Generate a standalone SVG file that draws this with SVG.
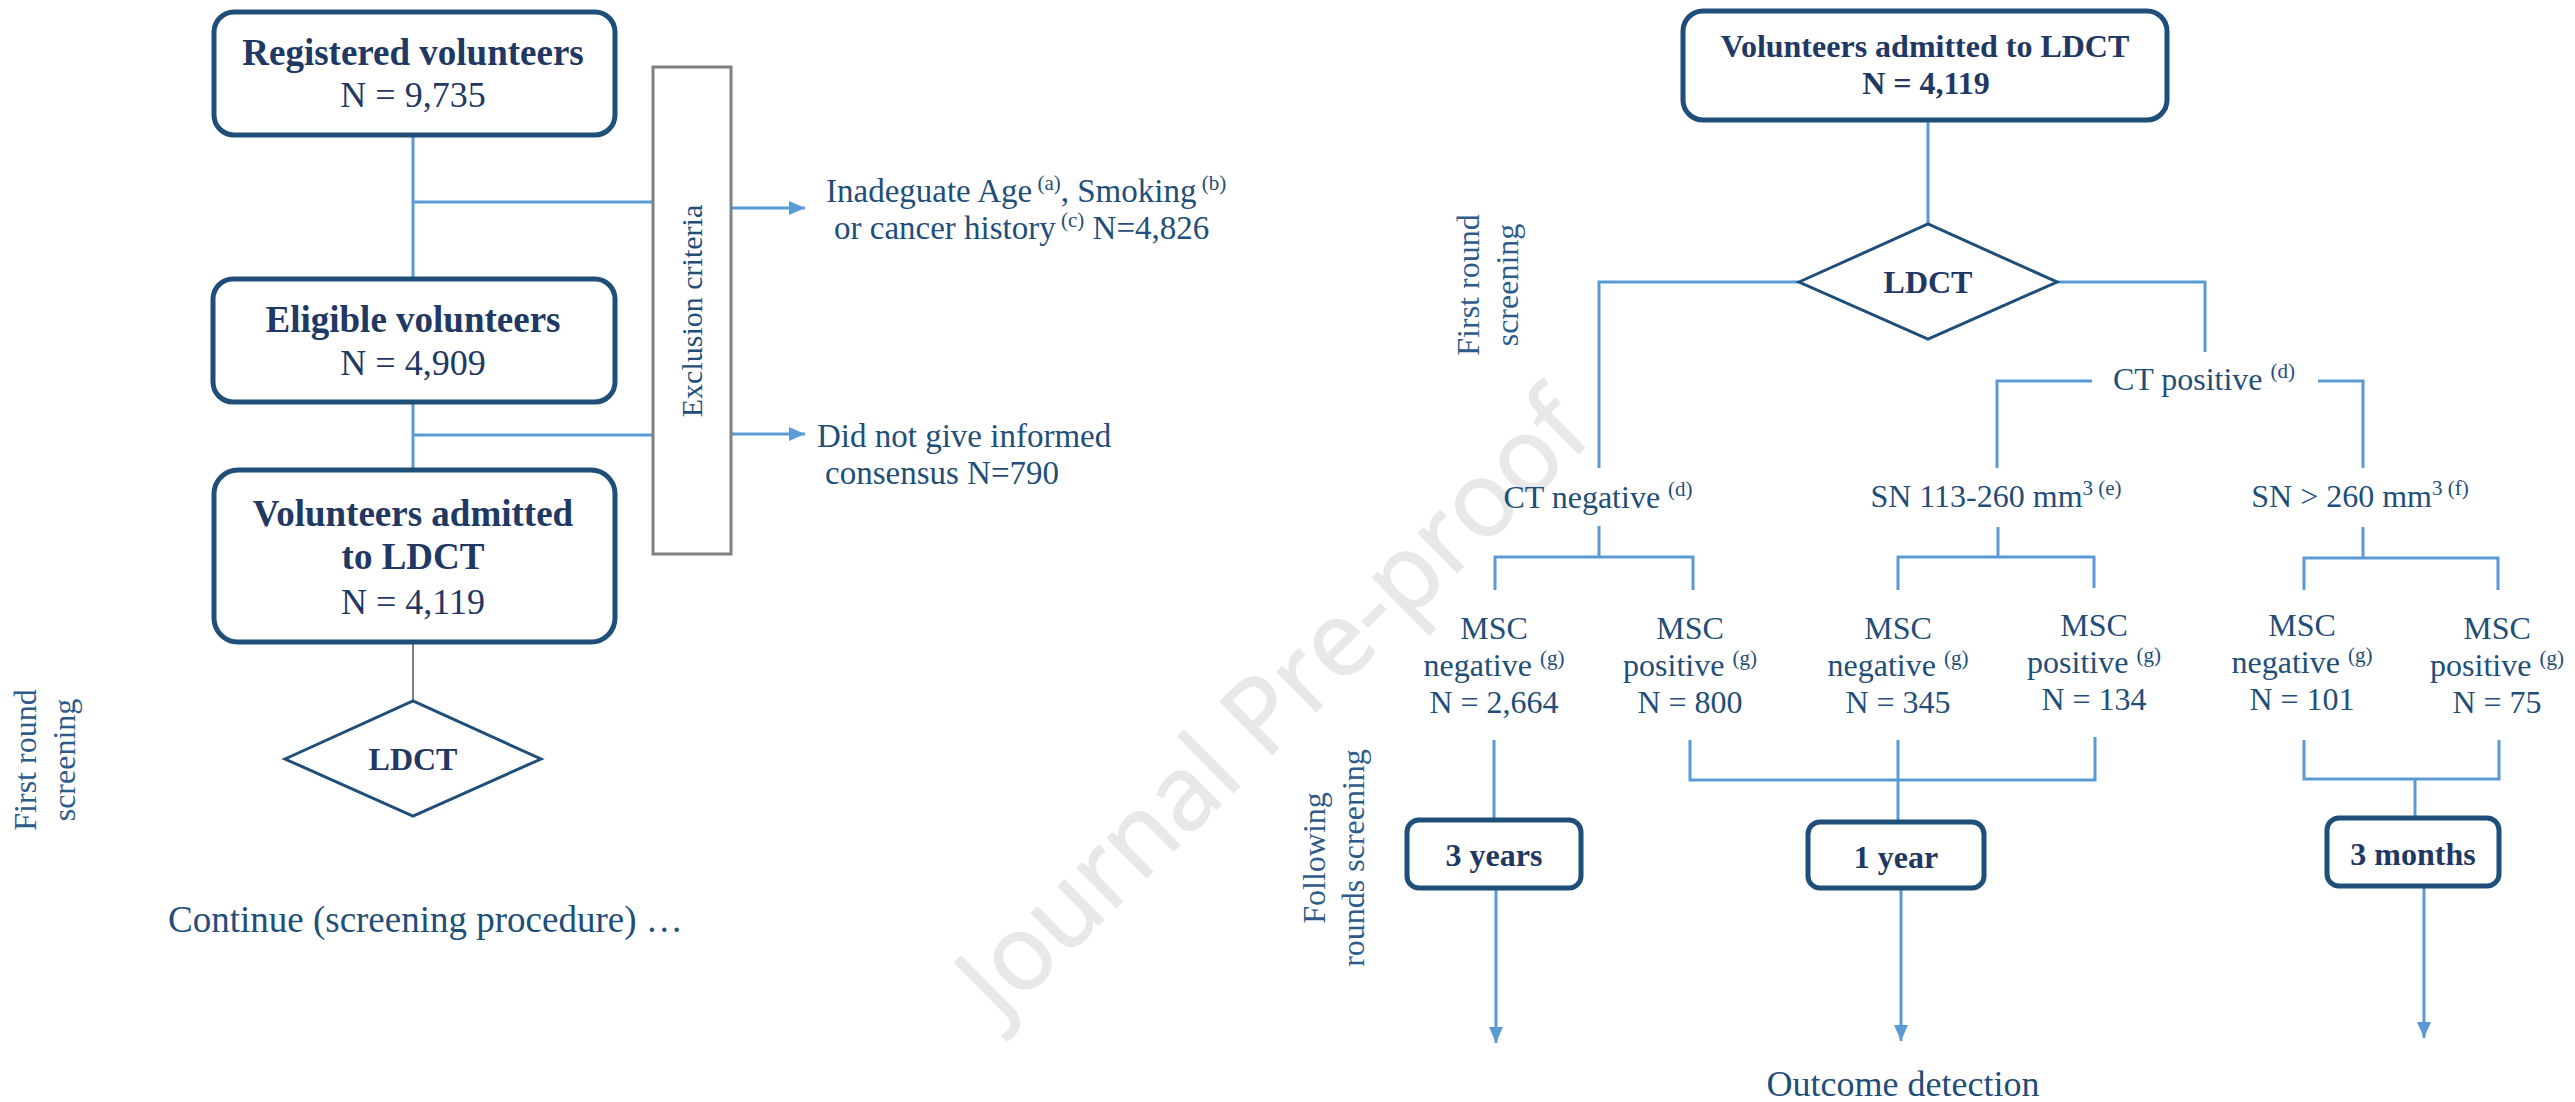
<svg xmlns="http://www.w3.org/2000/svg" width="2575" height="1102" viewBox="0 0 2575 1102">
<style>
  text { font-family: "Liberation Serif", "Times New Roman", serif; }
  .box { fill: #ffffff; stroke: #1f4e79; stroke-width: 5; }
  .sbox { fill: #ffffff; stroke: #1f4e79; stroke-width: 5; }
  .dia { fill: #ffffff; stroke: #1f4e79; stroke-width: 3; }
  .excl { fill: #ffffff; stroke: #808080; stroke-width: 3; }
  .conn { fill: none; stroke: #5b9bd5; stroke-width: 3; }
  .gray { fill: none; stroke: #7f7f7f; stroke-width: 2; }
  .tb { font-weight: bold; fill: #1f3864; text-anchor: middle; }
  .tn { fill: #1f3864; text-anchor: middle; }
  .lbl { fill: #1f4e79; font-size: 33px; }
  .c32 { fill: #1f4e79; font-size: 32px; text-anchor: middle; }
  .vert { fill: #2e5b8a; font-size: 32px; text-anchor: middle; }
  .sup { font-size: 21px; }
  .wm { font-family: "Open Sans", "Liberation Sans", sans-serif; font-weight: 400; font-size: 104px; fill: #e8e8e8; stroke: #e8e8e8; stroke-width: 1.5; }
</style>
<defs>
  <marker id="ah" markerWidth="16" markerHeight="14" refX="16" refY="7" orient="auto" markerUnits="userSpaceOnUse">
    <path d="M0,0 L16,7 L0,14 Z" fill="#5b9bd5"/>
  </marker>
</defs>
<rect width="2575" height="1102" fill="#ffffff"/>

<text class="wm" transform="translate(1000,1022) rotate(-44.5)">Journal Pre-proof</text>

<g id="connectors">
  <path class="conn" d="M413,135 V279"/>
  <path class="conn" d="M413,202 H653"/>
  <path class="conn" d="M413,402 V470"/>
  <path class="conn" d="M413,435 H653"/>
  <path class="conn" d="M731,208 H805" marker-end="url(#ah)"/>
  <path class="conn" d="M731,434 H805" marker-end="url(#ah)"/>
  <path class="gray" d="M413,642 V701"/>
  <path class="conn" d="M1928,120 V224"/>
  <path class="conn" d="M1799,282 H1599 V468"/>
  <path class="conn" d="M2057,282 H2205 V352"/>
  <path class="conn" d="M2092,381 H1997 V468"/>
  <path class="conn" d="M2318,381 H2363 V468"/>
  <path class="conn" d="M1599,526 V557"/>
  <path class="conn" d="M1495,590 V557 H1693 V590"/>
  <path class="conn" d="M1998,527 V557"/>
  <path class="conn" d="M1898,590 V557 H2094 V588"/>
  <path class="conn" d="M2363,527 V558"/>
  <path class="conn" d="M2304,590 V558 H2498 V590"/>
  <path class="conn" d="M1494,740 V820"/>
  <path class="conn" d="M1690,740 V780 H2095 V737"/>
  <path class="conn" d="M1898,740 V822"/>
  <path class="conn" d="M2304,740 V779 H2499 V740"/>
  <path class="conn" d="M2415,779 V818"/>
  <path class="conn" d="M1496,888 V1043" marker-end="url(#ah)"/>
  <path class="conn" d="M1901,888 V1041" marker-end="url(#ah)"/>
  <path class="conn" d="M2424,886 V1038" marker-end="url(#ah)"/>
</g>

<g id="registered">
  <rect class="box" x="214" y="12" width="401" height="123" rx="20"/>
  <text class="tb" x="413" y="65" font-size="37">Registered volunteers</text>
  <text class="tn" x="413" y="107" font-size="36">N = 9,735</text>
</g>

<g id="eligible">
  <rect class="box" x="213" y="279" width="402" height="123" rx="20"/>
  <text class="tb" x="413" y="332" font-size="37">Eligible volunteers</text>
  <text class="tn" x="413" y="375" font-size="36">N = 4,909</text>
</g>

<g id="admitted-left">
  <rect class="box" x="214" y="470" width="401" height="172" rx="24"/>
  <text class="tb" x="413" y="526" font-size="37">Volunteers admitted</text>
  <text class="tb" x="413" y="569" font-size="37">to LDCT</text>
  <text class="tn" x="413" y="614" font-size="36">N = 4,119</text>
</g>

<g id="ldct-left">
  <polygon class="dia" points="285,759 413,701 541,759 413,816"/>
  <text class="tb" x="413" y="770" font-size="32">LDCT</text>
</g>

<g id="exclusion">
  <rect class="excl" x="653" y="67" width="78" height="487"/>
  <text fill="#1f4e79" font-size="30" text-anchor="middle" transform="translate(702,311) rotate(-90)">Exclusion criteria</text>
</g>

<g id="excl-age">
  <text class="lbl" x="826" y="202">Inadeguate Age<tspan class="sup" dy="-12"> (a)</tspan><tspan dy="12">, Smoking</tspan><tspan class="sup" dy="-12"> (b)</tspan></text>
  <text class="lbl" x="834" y="239">or cancer history<tspan class="sup" dy="-12"> (c)</tspan><tspan dy="12"> N=4,826</tspan></text>
</g>

<g id="excl-consent">
  <text class="lbl" x="817" y="447">Did not give informed</text>
  <text class="lbl" x="825" y="484">consensus N=790</text>
</g>

<g id="label-first-left">
  <text class="vert" transform="translate(36,760) rotate(-90)">First round</text>
  <text class="vert" transform="translate(75,760) rotate(-90)">screening</text>
</g>

<g id="continue">
  <text fill="#1f4e79" font-size="37" x="168" y="932">Continue (screening procedure) …</text>
</g>

<g id="admitted-right">
  <rect class="box" x="1683" y="11" width="484" height="109" rx="20"/>
  <text class="tb" x="1925" y="57" font-size="32">Volunteers admitted to LDCT</text>
  <text class="tb" x="1926" y="94" font-size="32">N = 4,119</text>
</g>

<g id="ldct-right">
  <polygon class="dia" points="1799,282 1928,224 2057,282 1928,339"/>
  <text class="tb" x="1928" y="293" font-size="32">LDCT</text>
</g>

<g id="label-first-right">
  <text class="vert" transform="translate(1479,285) rotate(-90)">First round</text>
  <text class="vert" transform="translate(1518,285) rotate(-90)">screening</text>
</g>

<g id="ct-positive">
  <text class="c32" x="2204" y="390">CT positive <tspan class="sup" dy="-12"> (d)</tspan></text>
</g>

<g id="ct-negative">
  <text class="c32" x="1598" y="508">CT negative <tspan class="sup" dy="-12"> (d)</tspan></text>
</g>

<g id="sn-113">
  <text class="c32" x="1996" y="507">SN 113-260 mm<tspan class="sup" dy="-12">3</tspan><tspan class="sup"> (e)</tspan></text>
</g>

<g id="sn-260">
  <text class="c32" x="2360" y="507">SN &gt; 260 mm<tspan class="sup" dy="-12">3</tspan><tspan class="sup"> (f)</tspan></text>
</g>

<g id="msc-neg-1">
  <text class="c32" x="1494" y="639">MSC</text>
  <text class="c32" x="1494" y="676">negative <tspan class="sup" dy="-11"> (g)</tspan></text>
  <text class="c32" x="1494" y="713">N = 2,664</text>
</g>
<g id="msc-pos-1">
  <text class="c32" x="1690" y="639">MSC</text>
  <text class="c32" x="1690" y="676">positive <tspan class="sup" dy="-11"> (g)</tspan></text>
  <text class="c32" x="1690" y="713">N = 800</text>
</g>
<g id="msc-neg-2">
  <text class="c32" x="1898" y="639">MSC</text>
  <text class="c32" x="1898" y="676">negative <tspan class="sup" dy="-11"> (g)</tspan></text>
  <text class="c32" x="1898" y="713">N = 345</text>
</g>
<g id="msc-pos-2">
  <text class="c32" x="2094" y="636">MSC</text>
  <text class="c32" x="2094" y="673">positive <tspan class="sup" dy="-11"> (g)</tspan></text>
  <text class="c32" x="2094" y="710">N = 134</text>
</g>
<g id="msc-neg-3">
  <text class="c32" x="2302" y="636">MSC</text>
  <text class="c32" x="2302" y="673">negative <tspan class="sup" dy="-11"> (g)</tspan></text>
  <text class="c32" x="2302" y="710">N = 101</text>
</g>
<g id="msc-pos-3">
  <text class="c32" x="2497" y="639">MSC</text>
  <text class="c32" x="2497" y="676">positive <tspan class="sup" dy="-11"> (g)</tspan></text>
  <text class="c32" x="2497" y="713">N = 75</text>
</g>

<g id="label-following">
  <text class="vert" transform="translate(1325,858) rotate(-90)">Following</text>
  <text class="vert" transform="translate(1364,858) rotate(-90)">rounds screening</text>
</g>

<g id="three-years">
  <rect class="sbox" x="1407" y="820" width="174" height="68" rx="12"/>
  <text class="tb" x="1494" y="866" font-size="32">3 years</text>
</g>
<g id="one-year">
  <rect class="sbox" x="1808" y="822" width="176" height="66" rx="12"/>
  <text class="tb" x="1896" y="868" font-size="32">1 year</text>
</g>
<g id="three-months">
  <rect class="sbox" x="2327" y="818" width="172" height="68" rx="12"/>
  <text class="tb" x="2413" y="865" font-size="32">3 months</text>
</g>

<g id="outcome">
  <text fill="#1f4e79" font-size="36" text-anchor="middle" x="1903" y="1096">Outcome detection</text>
</g>
</svg>
